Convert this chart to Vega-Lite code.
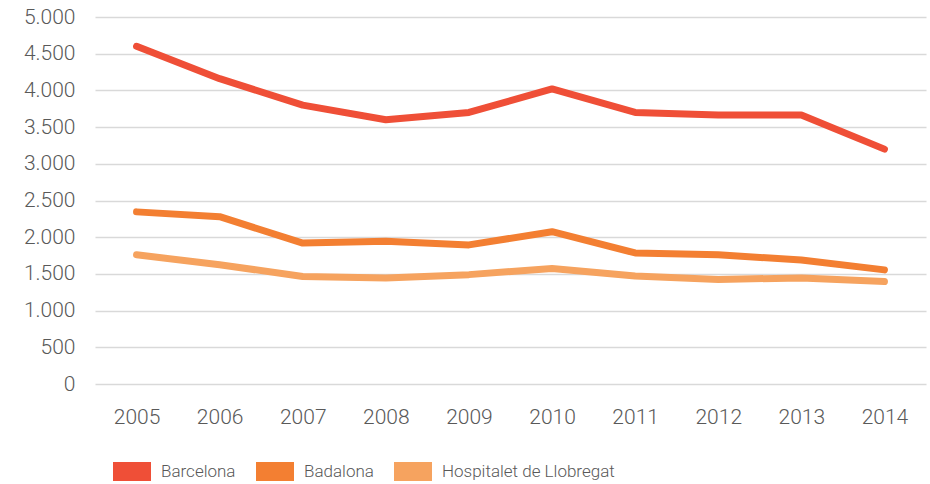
{
  "$schema": "https://vega.github.io/schema/vega-lite/v6.json",
  "width": 831,
  "height": 367,
  "autosize": {"type": "none"},
  "padding": {"left": 95, "top": 17, "right": 4, "bottom": 100},
  "background": "white",
  "config": {
    "locale": {"number": {"decimal": ",", "thousands": ".", "grouping": [3], "currency": ["", " €"]}},
    "view": {"stroke": null},
    "font": "Roboto",
    "axis": {"labelFont": "Roboto", "labelFontSize": 21, "labelColor": "#595959", "labelFontWeight": 300}
  },
  "data": {
    "values": [
      {"year": "2005", "city": "Barcelona", "value": 4600},
      {"year": "2006", "city": "Barcelona", "value": 4160},
      {"year": "2007", "city": "Barcelona", "value": 3800},
      {"year": "2008", "city": "Barcelona", "value": 3600},
      {"year": "2009", "city": "Barcelona", "value": 3700},
      {"year": "2010", "city": "Barcelona", "value": 4020},
      {"year": "2011", "city": "Barcelona", "value": 3700},
      {"year": "2012", "city": "Barcelona", "value": 3665},
      {"year": "2013", "city": "Barcelona", "value": 3665},
      {"year": "2014", "city": "Barcelona", "value": 3200},
      {"year": "2005", "city": "Badalona", "value": 2345},
      {"year": "2006", "city": "Badalona", "value": 2280},
      {"year": "2007", "city": "Badalona", "value": 1920},
      {"year": "2008", "city": "Badalona", "value": 1945},
      {"year": "2009", "city": "Badalona", "value": 1895},
      {"year": "2010", "city": "Badalona", "value": 2075},
      {"year": "2011", "city": "Badalona", "value": 1785},
      {"year": "2012", "city": "Badalona", "value": 1760},
      {"year": "2013", "city": "Badalona", "value": 1690},
      {"year": "2014", "city": "Badalona", "value": 1555},
      {"year": "2005", "city": "Hospitalet de Llobregat", "value": 1760},
      {"year": "2006", "city": "Hospitalet de Llobregat", "value": 1625},
      {"year": "2007", "city": "Hospitalet de Llobregat", "value": 1465},
      {"year": "2008", "city": "Hospitalet de Llobregat", "value": 1445},
      {"year": "2009", "city": "Hospitalet de Llobregat", "value": 1490},
      {"year": "2010", "city": "Hospitalet de Llobregat", "value": 1575},
      {"year": "2011", "city": "Hospitalet de Llobregat", "value": 1470},
      {"year": "2012", "city": "Hospitalet de Llobregat", "value": 1425},
      {"year": "2013", "city": "Hospitalet de Llobregat", "value": 1445},
      {"year": "2014", "city": "Hospitalet de Llobregat", "value": 1395}
    ]
  },
  "mark": {"type": "line", "strokeWidth": 7, "strokeCap": "round", "strokeJoin": "round"},
  "encoding": {
    "x": {
      "field": "year", "type": "ordinal", "title": null,
      "scale": {"paddingInner": 1, "paddingOuter": 0.5},
      "axis": {"labelAngle": 0, "domain": false, "ticks": false, "grid": false, "labelPadding": 22}
    },
    "y": {
      "field": "value", "type": "quantitative", "title": null,
      "scale": {"domain": [0, 5000]},
      "axis": {"values": [0, 500, 1000, 1500, 2000, 2500, 3000, 3500, 4000, 4500, 5000], "format": ",.0f", "domain": false, "ticks": false, "gridColor": "#d9d9d9", "gridWidth": 1.5, "labelPadding": 20}
    },
    "color": {
      "field": "city", "type": "nominal", "title": null,
      "sort": ["Barcelona", "Badalona", "Hospitalet de Llobregat"],
      "scale": {"domain": ["Barcelona", "Badalona", "Hospitalet de Llobregat"], "range": ["#EF4F37", "#F37F32", "#F6A35F"]},
      "legend": {
        "orient": "bottom", "direction": "horizontal",
        "symbolType": "M-1,-1L3,-1L3,1L-1,1Z", "symbolSize": 361,
        "labelFont": "Roboto", "labelFontWeight": 300, "labelFontSize": 17, "labelColor": "#595959", "labelLimit": 400,
        "labelOffset": 29, "columnPadding": 20, "offset": 17, "padding": 18,
        "encode": {"symbols": {"update": {"fill": {"scale": "color", "field": "value"}, "strokeWidth": {"value": 0}}}}
      }
    }
  }
}
